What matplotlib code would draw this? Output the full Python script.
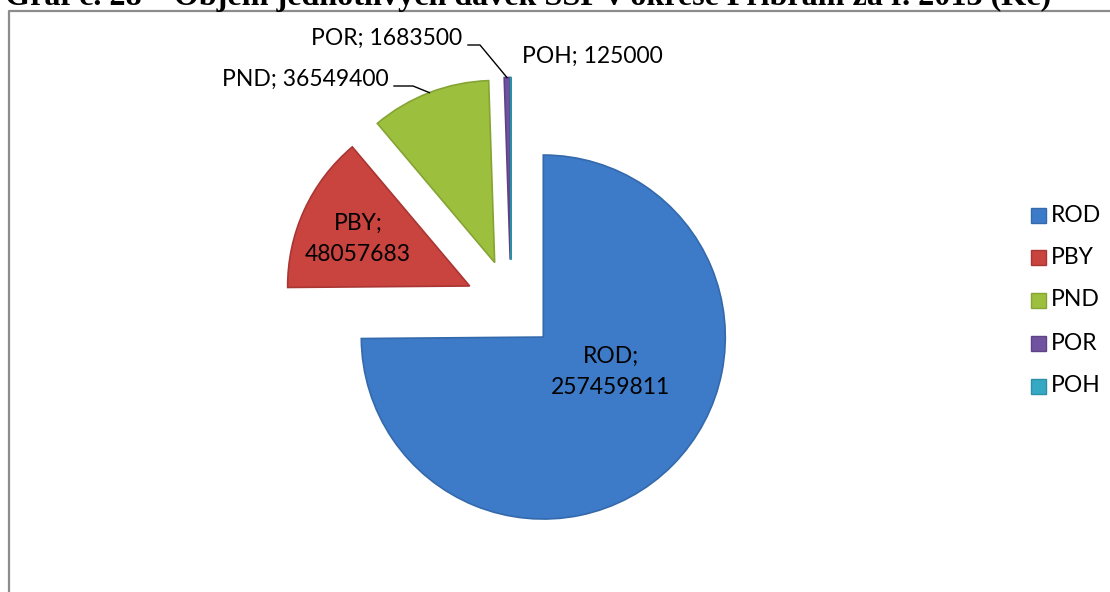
import matplotlib
matplotlib.use("Agg")
import matplotlib.pyplot as plt
from matplotlib.patches import Rectangle
import numpy as np

# data
categories = ["ROD", "PBY", "PND", "POR", "POH"]
values = [257459811, 48057683, 36549400, 1683500, 125000]
colors = ["#3d7bc8", "#c9433f", "#9cc03e", "#7152a0", "#35a9c4"]
edges = ["#3469ab", "#a93633", "#85a434", "#5d4385", "#2b8fa6"]

title = "Graf č. 28 – Objem jednotlivých dávek SSP v okrese Příbram za r. 2013 (Kč)"

W, H = 1110, 592
plt.rcParams['font.family'] = ['Lato', 'DejaVu Sans']

fig = plt.figure(figsize=(W / 100, H / 100), dpi=100)
ax = fig.add_axes([0, 0, 1, 1])

# pie, all slices pulled out a bit
radius = 182
wedges, _ = ax.pie(values, colors=colors, startangle=90, counterclock=False,
                   radius=radius, center=(511, H - 305),
                   explode=[0.25 * radius] * len(values),
                   wedgeprops=dict(linewidth=1.2))
for w, ec in zip(wedges, edges):
    w.set_edgecolor(ec)

ax.set_xlim(0, W)
ax.set_ylim(0, H)
ax.set_aspect('equal')
ax.axis('off')

# chart area frame (only top and left visible)
ax.plot([8.5, 8.5, W + 5], [-5, H - 11, H - 11], color="#8c8c8c", lw=1.6,
        clip_on=False)


def arc_point(w):
    # point on outer arc at the wedge middle angle
    a = np.deg2rad((w.theta1 + w.theta2) / 2)
    cx, cy = w.center
    return cx + w.r * np.cos(a), cy + w.r * np.sin(a)


fs = 16.5
# inside labels
ax.text(611, H - 372, f"{categories[0]};\n{values[0]}", ha='center', va='center',
        fontsize=fs, linespacing=1.6)
ax.text(358, H - 239, f"{categories[1]};\n{values[1]}", ha='center', va='center',
        fontsize=fs, linespacing=1.6)

# outside labels with leader lines
px, py = arc_point(wedges[2])
ax.text(389, H - 79, f"{categories[2]}; {values[2]}", ha='right', va='center', fontsize=fs)
ax.plot([394, 413, px], [H - 86, H - 86, py], color='black', lw=1)

px, py = arc_point(wedges[3])
ax.text(462, H - 38, f"{categories[3]}; {values[3]}", ha='right', va='center', fontsize=fs)
ax.plot([468, 480, px], [H - 45, H - 45, py], color='black', lw=1)

ax.text(522, H - 56, f"{categories[4]}; {values[4]}", ha='left', va='center', fontsize=fs)

# legend
rows = [215, 257, 300, 343, 386]
for cat, c, ec, y in zip(categories, colors, edges, rows):
    ax.add_patch(Rectangle((1031, H - y - 7.5), 15, 15, facecolor=c, edgecolor=ec, lw=1))
    ax.text(1051, H - y, cat, ha='left', va='center', fontsize=fs)

# title, cut off at the top of the picture like in the source
t = fig.text(5, H - 5, title, transform=None, fontsize=20,
             family=['Liberation Serif', 'DejaVu Serif'], weight='bold', va='baseline')
fig.canvas.draw()
bb = t.get_window_extent()
t.set_fontsize(20 * 1047 / bb.width)

fig.savefig("out.png", dpi=100)
